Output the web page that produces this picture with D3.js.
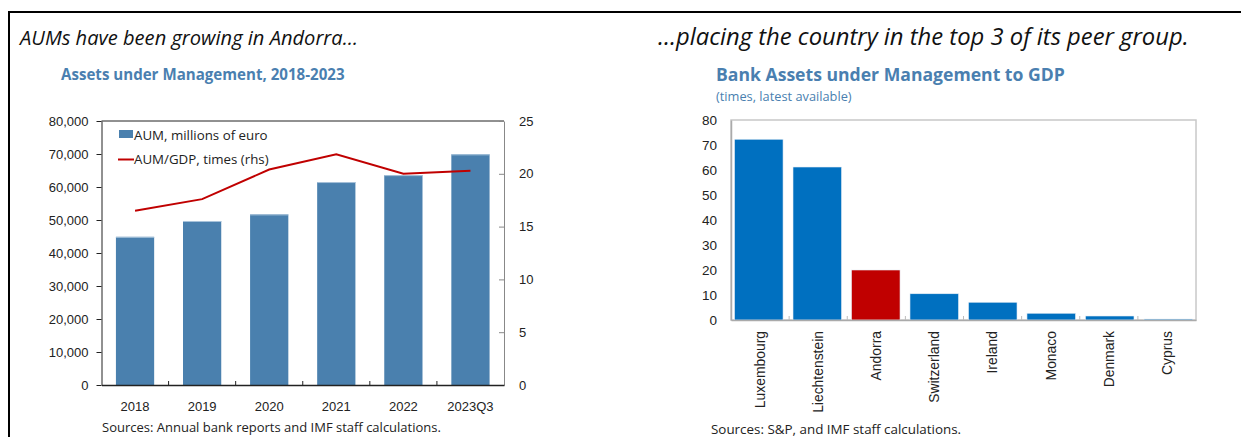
<!DOCTYPE html>
<html>
<head>
<meta charset="utf-8">
<script src="https://cdn.jsdelivr.net/npm/d3@7"></script>
<style>
  html, body { margin: 0; padding: 0; background: #fff; }
  svg { display: block; font-family: "Open Sans", "Noto Sans", sans-serif; }
</style>
</head>
<body>
<svg id="chart" width="1241" height="437"></svg>
<script>
// Left panel: AUM levels (bars, lhs) and AUM/GDP ratio (line, rhs)
const years = ["2018", "2019", "2020", "2021", "2022", "2023Q3"];
const aumMillions = [44900, 49700, 51700, 61500, 63600, 69900];
const aumToGdp = [16.5, 17.6, 20.4, 21.85, 20.0, 20.3];
const leftTicks = [0, 10000, 20000, 30000, 40000, 50000, 60000, 70000, 80000];
const rightTicks = [0, 5, 10, 15, 20, 25];

// Right panel: bank AUM to GDP by country
const countries = ["Luxembourg", "Liechtenstein", "Andorra", "Switzerland", "Ireland", "Monaco", "Denmark", "Cyprus"];
const ratioToGdp = [72.3, 61.2, 20.0, 10.5, 7.1, 2.7, 1.6, 0.4];
const peerTicks = [0, 10, 20, 30, 40, 50, 60, 70, 80];

const svg = d3.select("#chart");
const txt = "#222";
const titleBlue = "#4a7fb0";

// outer frame
svg.append("line").attr("x1", 8).attr("x2", 1241).attr("y1", 12).attr("y2", 12)
  .attr("stroke", "#000").attr("stroke-width", 2);
svg.append("line").attr("x1", 9).attr("x2", 9).attr("y1", 11).attr("y2", 437)
  .attr("stroke", "#000").attr("stroke-width", 2);

// headings
svg.append("text").attr("x", 20).attr("y", 45).attr("font-size", 20.1)
  .attr("font-style", "italic").attr("fill", "#111").text("AUMs have been growing in Andorra…");
svg.append("text").attr("x", 61).attr("y", 80).attr("font-size", 15.1)
  .attr("font-weight", "bold").attr("fill", titleBlue).text("Assets under Management, 2018-2023");

svg.append("text").attr("x", 658).attr("y", 45).attr("font-size", 23.8)
  .attr("font-style", "italic").attr("fill", "#111").text("…placing the country in the top 3 of its peer group.");
svg.append("text").attr("x", 716).attr("y", 81).attr("font-size", 17.6)
  .attr("font-weight", "bold").attr("fill", titleBlue).text("Bank Assets under Management to GDP");
svg.append("text").attr("x", 716).attr("y", 101).attr("font-size", 12.8)
  .attr("fill", titleBlue).text("(times, latest available)");

// ---------- left chart ----------
const L = { x0: 101.5, x1: 504, y0: 121, y1: 385 };
const xL = d3.scaleBand().domain(years).range([L.x0, L.x1]).paddingInner(0.43).paddingOuter(0.215);
const xLc = d3.scaleBand().domain(years).range([L.x0, L.x1]);
const yL = d3.scaleLinear().domain([0, 80000]).range([L.y1, L.y0]);
const yR = d3.scaleLinear().domain([0, 25]).range([L.y1, L.y0]);

const gL = svg.append("g");
gL.selectAll("rect.aum").data(aumMillions).join("rect").attr("class", "aum")
  .attr("x", (d, i) => xL(years[i])).attr("width", xL.bandwidth())
  .attr("y", d => yL(d)).attr("height", d => yL(0) - yL(d))
  .attr("fill", "#4a80ae");
// faint light edge on bar tops
gL.selectAll("line.edge").data(aumMillions).join("line").attr("class", "edge")
  .attr("x1", (d, i) => xL(years[i])).attr("x2", (d, i) => xL(years[i]) + xL.bandwidth())
  .attr("y1", d => yL(d) + 0.5).attr("y2", d => yL(d) + 0.5)
  .attr("stroke", "#a8c3db").attr("stroke-width", 1);

// top border
gL.append("line").attr("x1", L.x0).attr("x2", L.x1).attr("y1", L.y0).attr("y2", L.y0)
  .attr("stroke", "#222").attr("stroke-width", 1);

// left axis
const axL = gL.append("g").attr("transform", `translate(${L.x0},0)`)
  .call(d3.axisLeft(yL).tickValues(leftTicks).tickSize(5).tickSizeOuter(0).tickPadding(8)
    .tickFormat(d3.format(",")));
axL.select(".domain").attr("stroke", "#222");
axL.selectAll(".tick line").attr("stroke", "#222");
axL.selectAll("text").attr("font-size", 13).attr("fill", txt).attr("font-family", null);

// right axis (ticks pointing inward)
const axR = gL.append("g").attr("transform", `translate(${L.x1},0)`)
  .call(d3.axisRight(yR).tickValues(rightTicks).tickSize(0).tickSizeOuter(0).tickPadding(15));
axR.select(".domain").attr("stroke", "#888");
axR.selectAll(".tick").append("line").attr("x1", -5).attr("x2", 0).attr("stroke", "#888");
axR.selectAll("text").attr("font-size", 13).attr("fill", txt).attr("font-family", null);

// bottom axis
const axB = gL.append("g").attr("transform", `translate(0,${L.y1})`)
  .call(d3.axisBottom(xLc).tickSize(0).tickSizeOuter(0).tickPadding(17));
axB.select(".domain").attr("stroke", "#222").attr("stroke-width", 1.5);
axB.selectAll("text").attr("font-size", 13).attr("fill", txt).attr("font-family", null);
gL.selectAll("line.btick").data(years.slice(1)).join("line").attr("class", "btick")
  .attr("x1", d => xLc(d)).attr("x2", d => xLc(d))
  .attr("y1", L.y1).attr("y2", L.y1 - 4).attr("stroke", "#222");

// ratio line
const lineGen = d3.line().x((d, i) => xL(years[i]) + xL.bandwidth() / 2).y(d => yR(d));
gL.append("path").datum(aumToGdp).attr("d", lineGen)
  .attr("fill", "none").attr("stroke", "#c00000").attr("stroke-width", 2);

// legend
gL.append("rect").attr("x", 119).attr("y", 130).attr("width", 14).attr("height", 8).attr("fill", "#4a80ae");
gL.append("text").attr("x", 134).attr("y", 139.5).attr("font-size", 13.3).attr("fill", txt).text("AUM, millions of euro");
gL.append("line").attr("x1", 118).attr("x2", 134).attr("y1", 159.5).attr("y2", 159.5)
  .attr("stroke", "#c00000").attr("stroke-width", 2);
gL.append("text").attr("x", 134).attr("y", 164).attr("font-size", 13.3).attr("fill", txt).text("AUM/GDP, times (rhs)");

gL.append("text").attr("x", 102).attr("y", 432).attr("font-size", 13).attr("fill", txt)
  .text("Sources: Annual bank reports and IMF staff calculations.");

// ---------- right chart ----------
const R = { x0: 731, x1: 1196, y0: 120, y1: 320 };
const xP = d3.scaleBand().domain(countries).range([R.x0, R.x1]).paddingInner(0.17).paddingOuter(0.06);
const xPc = d3.scaleBand().domain(countries).range([R.x0, R.x1]);
const yP = d3.scaleLinear().domain([0, 80]).range([R.y1, R.y0]);

const gR = svg.append("g");
gR.append("rect").attr("x", R.x0).attr("y", R.y0).attr("width", R.x1 - R.x0).attr("height", R.y1 - R.y0)
  .attr("fill", "none").attr("stroke", "#c8c8c8").attr("stroke-width", 1.5);

gR.selectAll("rect.peer").data(ratioToGdp).join("rect").attr("class", "peer")
  .attr("x", (d, i) => xP(countries[i])).attr("width", xP.bandwidth())
  .attr("y", d => yP(d)).attr("height", d => yP(0) - yP(d))
  .attr("fill", (d, i) => countries[i] === "Andorra" ? "#c00000" : "#0070c0")
  .attr("stroke", "#e8eef6").attr("stroke-width", 0.6);

const axP = gR.append("g").attr("transform", `translate(${R.x0},0)`)
  .call(d3.axisLeft(yP).tickValues(peerTicks).tickSize(0).tickPadding(14));
axP.select(".domain").attr("stroke", "#aaa").attr("stroke-width", 1.5);
axP.selectAll("text").attr("font-size", 13.5).attr("fill", txt).attr("font-family", null);

const axPB = gR.append("g").attr("transform", `translate(0,${R.y1})`)
  .call(d3.axisBottom(xPc).tickSize(0).tickSizeOuter(0).tickPadding(0));
axPB.select(".domain").attr("stroke", "#aaa").attr("stroke-width", 1.5);
axPB.selectAll("text").attr("font-size", 13.9).attr("fill", txt).attr("font-family", null)
  .attr("transform", "rotate(-90)").attr("text-anchor", "end")
  .attr("x", -11).attr("y", 0).attr("dy", "0.35em");
gR.selectAll("line.ptick").data(countries.slice(1)).join("line").attr("class", "ptick")
  .attr("x1", d => xPc(d)).attr("x2", d => xPc(d))
  .attr("y1", R.y1).attr("y2", R.y1 - 4).attr("stroke", "#bbb");

gR.append("text").attr("x", 711).attr("y", 433.5).attr("font-size", 13.4).attr("fill", txt)
  .text("Sources: S&P, and IMF staff calculations.");
</script>
</body>
</html>
